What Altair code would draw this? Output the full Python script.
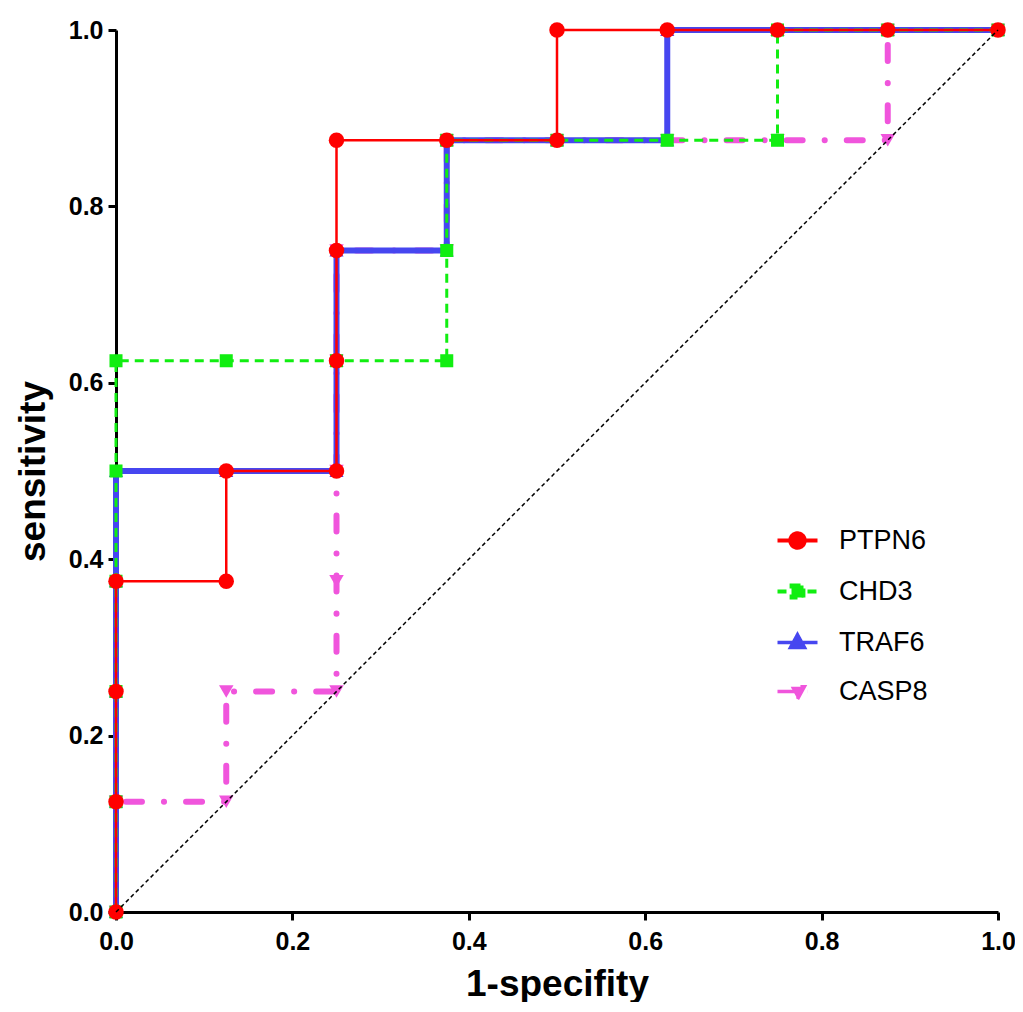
import altair as alt
import pandas as pd

# ---------------- data ----------------
series_order = ["PTPN6", "CHD3", "TRAF6", "CASP8"]

ptpn6_fpr = [0, 0, 0, 0, 0.125, 0.125, 0.25, 0.25, 0.25, 0.25, 0.375, 0.5, 0.5, 0.625, 0.75, 0.875, 1]
ptpn6_tpr = [0, 0.125, 0.25, 0.375, 0.375, 0.5, 0.5, 0.625, 0.75, 0.875, 0.875, 0.875, 1, 1, 1, 1, 1]

chd3_fpr = [0, 0, 0, 0, 0, 0, 0.125, 0.25, 0.375, 0.375, 0.375, 0.5, 0.625, 0.75, 0.75, 0.875, 1]
chd3_tpr = [0, 0.125, 0.25, 0.375, 0.5, 0.625, 0.625, 0.625, 0.625, 0.75, 0.875, 0.875, 0.875, 0.875, 1, 1, 1]

traf6_fpr = [0, 0, 0, 0, 0, 0.125, 0.25, 0.25, 0.25, 0.375, 0.375, 0.5, 0.625, 0.625, 0.75, 0.875, 1]
traf6_tpr = [0, 0.125, 0.25, 0.375, 0.5, 0.5, 0.5, 0.625, 0.75, 0.75, 0.875, 0.875, 0.875, 1, 1, 1, 1]

casp8_fpr = [0, 0, 0.125, 0.125, 0.25, 0.25, 0.25, 0.25, 0.25, 0.375, 0.375, 0.5, 0.625, 0.75, 0.875, 0.875, 1]
casp8_tpr = [0, 0.125, 0.125, 0.25, 0.25, 0.375, 0.5, 0.625, 0.75, 0.75, 0.875, 0.875, 0.875, 0.875, 0.875, 1, 1]

diag_fpr = [0, 1]
diag_tpr = [0, 1]

tick_values = [0.0, 0.2, 0.4, 0.6, 0.8, 1.0]

series_data = {
    "PTPN6": (ptpn6_fpr, ptpn6_tpr),
    "CHD3": (chd3_fpr, chd3_tpr),
    "TRAF6": (traf6_fpr, traf6_tpr),
    "CASP8": (casp8_fpr, casp8_tpr),
}

# ---------------- styles ----------------
colors = {"PTPN6": "#ff0000", "CHD3": "#11ee11", "TRAF6": "#4646f0", "CASP8": "#f055dc"}
widths = {"PTPN6": 2.5, "CHD3": 3, "TRAF6": 6, "CASP8": 6}
dashes = {"PTPN6": [1, 0], "CHD3": [9, 6], "TRAF6": [1, 0], "CASP8": [16, 22, 0.1, 22]}
caps = {"PTPN6": "butt", "CHD3": "butt", "TRAF6": "butt", "CASP8": "round"}
shapes = {"PTPN6": "circle", "CHD3": "square", "TRAF6": "triangle-up", "CASP8": "triangle-down"}
sizes = {"PTPN6": 240, "CHD3": 170, "TRAF6": 200, "CASP8": 210}

legend_paths = {
    "PTPN6": "M-2.5,0H2.5M0.9,0A0.9,0.9 0 1,1 -0.9,0A0.9,0.9 0 1,1 0.9,0Z",
    "CHD3": "M-2.5,0H2.5M-0.75,-0.75H0.75V0.75H-0.75Z",
    "TRAF6": "M-2.5,0H2.5M0,-0.95L0.85,0.6H-0.85Z",
    "CASP8": "M-2.5,0H2.5M0,0.95L0.85,-0.6H-0.85Z",
}
legend_widths = {"PTPN6": 4, "CHD3": 3.5, "TRAF6": 8, "CASP8": 7}
legend_dashes = {"PTPN6": [1, 0], "CHD3": [9, 6], "TRAF6": [1, 0], "CASP8": [18, 12, 0.1, 12]}

FONT = "Liberation Sans"

x_scale = alt.Scale(domain=[0, 1], nice=False, zero=False)
y_scale = alt.Scale(domain=[0, 1], nice=False, zero=False)
x_axis = alt.Axis(values=tick_values, format=".1f", title="1-specifity",
                  labelPadding=9, titlePadding=12, labelFlush=False)
y_axis = alt.Axis(values=tick_values, format=".1f", title="sensitivity",
                  labelPadding=5, titlePadding=16, labelFlush=False)


def enc(extra=None):
    d = dict(
        x=alt.X("fpr:Q", scale=x_scale, axis=x_axis),
        y=alt.Y("tpr:Q", scale=y_scale, axis=y_axis),
    )
    if extra:
        d.update(extra)
    return d


layers = []
for name in ["CASP8", "TRAF6", "CHD3", "PTPN6"]:
    fx, fy = series_data[name]
    df = pd.DataFrame({"fpr": fx, "tpr": fy, "i": list(range(len(fx))), "series": name})
    line = alt.Chart(df).mark_line(
        color=colors[name], strokeWidth=widths[name], strokeDash=dashes[name],
        strokeCap=caps[name], clip=False
    ).encode(**enc({"order": alt.Order("i:Q")}))
    pts = alt.Chart(df).mark_point(
        filled=True, opacity=1, shape=shapes[name], size=sizes[name],
        color=colors[name], strokeWidth=0, clip=False
    ).encode(**enc())
    layers += [line, pts]

# legend-only layer (no visible marks)
leg_df = pd.DataFrame({"fpr": [0.0] * 4, "tpr": [0.0] * 4, "series": series_order})
legend_layer = alt.Chart(leg_df).mark_point(
    filled=False, opacity=1, size=256
).encode(**enc({
    "fill": alt.Fill("series:N", scale=alt.Scale(domain=series_order, range=[colors[s] for s in series_order]),
                     legend=alt.Legend(title=None)),
    "stroke": alt.Stroke("series:N", scale=alt.Scale(domain=series_order, range=[colors[s] for s in series_order]),
                         legend=alt.Legend(title=None)),
    "shape": alt.Shape("series:N", scale=alt.Scale(domain=series_order, range=[legend_paths[s] for s in series_order]),
                       legend=alt.Legend(title=None)),
    "strokeDash": alt.StrokeDash("series:N", scale=alt.Scale(domain=series_order, range=[legend_dashes[s] for s in series_order]),
                                 legend=alt.Legend(title=None)),
    "strokeWidth": alt.StrokeWidth("series:N", scale=alt.Scale(domain=series_order, range=[legend_widths[s] for s in series_order]),
                                   legend=alt.Legend(title=None)),
})).transform_filter("false")

diag_df = pd.DataFrame({"fpr": diag_fpr, "tpr": diag_tpr, "i": [0, 1]})
diag = alt.Chart(diag_df).mark_line(
    color="black", strokeWidth=1.5, strokeDash=[4, 3]
).encode(**enc({"order": alt.Order("i:Q")}))

chart = alt.layer(*layers, legend_layer, diag).properties(
    width=882, height=882,
    background="white",
    autosize=alt.AutoSizeParams(type="none"),
    padding={"left": 108, "top": 22, "right": 17, "bottom": 90},
).configure_view(stroke=None).configure_axis(
    grid=False,
    domainColor="black", domainWidth=3,
    tickColor="black", tickWidth=3, tickSize=8,
    labelFont=FONT, labelFontSize=25, labelFontWeight="bold", labelColor="black",
    titleFont=FONT, titleFontSize=37, titleFontWeight="bold", titleColor="black",
).configure_legend(
    orient="none", legendX=668, legendY=497,
    labelFont=FONT, labelFontSize=27, labelColor="black",
    symbolSize=256, labelOffset=28, rowPadding=21,
)

chart.save("out.html", embed_options={"renderer": "svg", "actions": False})
